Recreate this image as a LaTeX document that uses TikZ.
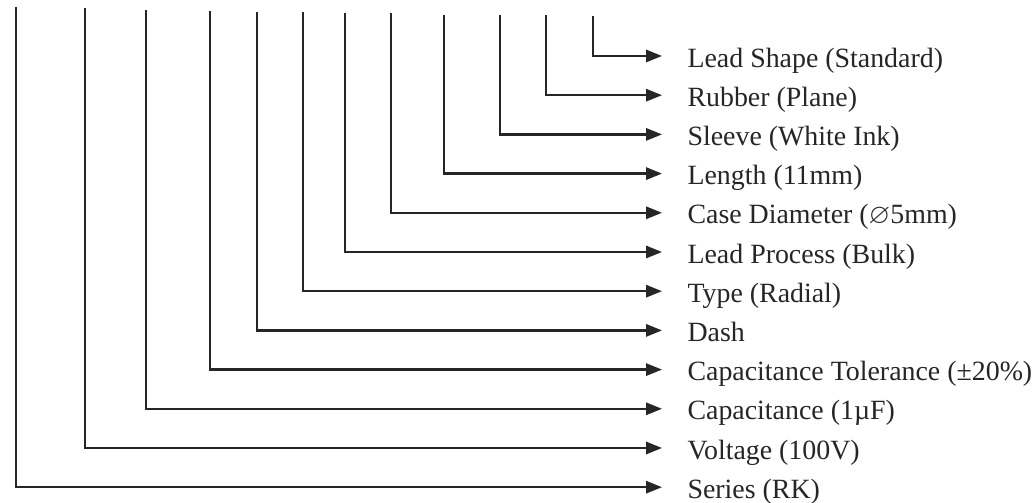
\documentclass[tikz,border=0pt]{standalone}
\usepackage{fontspec}
\usepackage{amssymb}
\setmainfont{Liberation Serif}
\usetikzlibrary{arrows.meta}

\begin{document}
\begin{tikzpicture}[x=0.015cm, y=-0.015cm,
		code/.style={anchor=west, inner xsep=10.7pt, inner ysep=0pt, text height=9.4pt, text depth=0pt,
			font=\fontsize{11.9}{14}\selectfont, text=black!85},
		conn/.style={draw=black!85, line width=1pt, -{Triangle[length=6.8pt,width=5.2pt]}}]

	\useasboundingbox (0,0) rectangle (1032,503);

	% ===== opisy =====
	\node[code] (shape)   at (662,56)    {Lead Shape (Standard)};
	\node[code] (rubber)  at (662,95.2)  {Rubber (Plane)};
	\node[code] (sleeve)  at (662,134.4) {Sleeve (White Ink)};
	\node[code] (length)  at (662,173.6) {Length (11mm)};
	\node[code] (diam)    at (662,212.8) {Case Diameter ($\varnothing$5mm)};
	\node[code] (process) at (662,252)   {Lead Process (Bulk)};
	\node[code] (type)    at (662,291.2) {Type (Radial)};
	\node[code] (dash)    at (662,330.4) {Dash};
	\node[code] (tol)     at (662,369.6) {Capacitance Tolerance (\symbol{"00B1}20\%)};
	\node[code] (cap)     at (662,408.8) {Capacitance (1\symbol{"00B5}F)};
	\node[code] (volt)    at (662,448)   {Voltage (100V)};
	\node[code] (series)  at (662,487.2) {Series (RK)};

	% ===== początki linii =====
	\coordinate (tseries)  at (16,7);
	\coordinate (tvolt)    at (85,8);
	\coordinate (tcap)     at (146,10);
	\coordinate (ttol)     at (210,11);
	\coordinate (tdash)    at (257,12);
	\coordinate (ttype)    at (303,12);
	\coordinate (tprocess) at (345,13);
	\coordinate (tdiam)    at (391,13);
	\coordinate (tlength)  at (444,15);
	\coordinate (tsleeve)  at (500,15);
	\coordinate (trubber)  at (546,15);
	\coordinate (tshape)   at (593,16);

	% ===== strzałki =====
	\draw[conn] (tshape)   |- (shape.west);
	\draw[conn] (trubber)  |- (rubber.west);
	\draw[conn] (tsleeve)  |- (sleeve.west);
	\draw[conn] (tlength)  |- (length.west);
	\draw[conn] (tdiam)    |- (diam.west);
	\draw[conn] (tprocess) |- (process.west);
	\draw[conn] (ttype)    |- (type.west);
	\draw[conn] (tdash)    |- (dash.west);
	\draw[conn] (ttol)     |- (tol.west);
	\draw[conn] (tcap)     |- (cap.west);
	\draw[conn] (tvolt)    |- (volt.west);
	\draw[conn] (tseries)  |- (series.west);
\end{tikzpicture}
\end{document}
